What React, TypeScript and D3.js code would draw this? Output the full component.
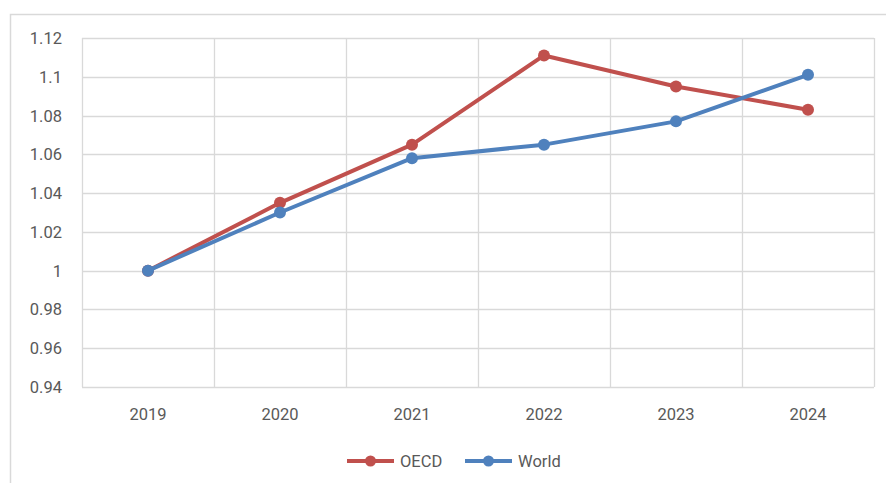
import { useRef, useEffect } from 'react';
import * as d3 from 'd3';

const years = ['2019', '2020', '2021', '2022', '2023', '2024'];
const oecd = [1.0, 1.035, 1.065, 1.111, 1.095, 1.083];
const world = [1.0, 1.03, 1.058, 1.065, 1.077, 1.101];
const yTicks = [0.94, 0.96, 0.98, 1, 1.02, 1.04, 1.06, 1.08, 1.1, 1.12];

const WIDTH = 886;
const HEIGHT = 483;
const margin = { top: 38, right: 10, bottom: 96, left: 82 };
const FONT = '"Liberation Sans Narrow", "Arial Narrow", Roboto, sans-serif';
const TEXT_SIZE = 16.5;

const series = [
  { name: 'OECD', values: oecd, color: '#C0504D' },
  { name: 'World', values: world, color: '#4F81BD' },
];

export default function App() {
  const svgRef = useRef<SVGSVGElement>(null);

  useEffect(() => {
    if (!svgRef.current) return;
    const svg = d3.select(svgRef.current);
    svg.selectAll('*').remove();

    const innerWidth = WIDTH - margin.left - margin.right - 2;
    const innerHeight = HEIGHT - margin.top - margin.bottom;

    // outer chart frame
    svg
      .append('rect')
      .attr('x', 10.5)
      .attr('y', 14.5)
      .attr('width', WIDTH + 20)
      .attr('height', HEIGHT + 20)
      .attr('fill', 'white')
      .attr('stroke', '#d9d9d9')
      .attr('stroke-width', 1.5);

    const x = d3.scaleBand().domain(years).range([0, innerWidth]);
    const y = d3.scaleLinear().domain([0.94, 1.12]).range([innerHeight, 0]);

    const g = svg
      .append('g')
      .attr('transform', `translate(${margin.left},${margin.top})`);

    // horizontal grid
    g.selectAll('.hgrid')
      .data(yTicks)
      .join('line')
      .attr('x1', 0)
      .attr('x2', innerWidth)
      .attr('y1', (d) => Math.round(y(d)) + 0.5)
      .attr('y2', (d) => Math.round(y(d)) + 0.5)
      .attr('stroke', '#d9d9d9')
      .attr('stroke-width', 1.3);

    // vertical grid at band edges
    const edges = years.map((d) => x(d) || 0).concat([innerWidth]);
    g.selectAll('.vgrid')
      .data(edges)
      .join('line')
      .attr('x1', (d) => Math.round(d) + 0.5)
      .attr('x2', (d) => Math.round(d) + 0.5)
      .attr('y1', 0)
      .attr('y2', innerHeight)
      .attr('stroke', '#d9d9d9')
      .attr('stroke-width', 1.3);

    // y labels
    g.selectAll('.ylab')
      .data(yTicks)
      .join('text')
      .attr('x', -20)
      .attr('y', (d) => y(d) + 6)
      .attr('text-anchor', 'end')
      .attr('font-family', FONT)
      .attr('font-size', TEXT_SIZE)
      .attr('fill', '#595959')
      .text((d) => String(d));

    // x labels
    g.selectAll('.xlab')
      .data(years)
      .join('text')
      .attr('x', (d) => (x(d) || 0) + x.bandwidth() / 2)
      .attr('y', innerHeight + 33)
      .attr('text-anchor', 'middle')
      .attr('font-family', FONT)
      .attr('font-size', TEXT_SIZE)
      .attr('fill', '#595959')
      .text((d) => d);

    const line = d3
      .line<number>()
      .x((_, i) => (x(years[i]) || 0) + x.bandwidth() / 2)
      .y((d) => y(d));

    series.forEach((s) => {
      g.append('path')
        .datum(s.values)
        .attr('d', line)
        .attr('fill', 'none')
        .attr('stroke', s.color)
        .attr('stroke-width', 4)
        .attr('stroke-linejoin', 'round');

      g.selectAll(`.pt-${s.name}`)
        .data(s.values)
        .join('circle')
        .attr('cx', (_, i) => (x(years[i]) || 0) + x.bandwidth() / 2)
        .attr('cy', (d) => y(d))
        .attr('r', 6)
        .attr('fill', s.color);
    });

    // legend
    const legendPos = [347, 465];
    series.forEach((s, i) => {
      const lx = legendPos[i];
      const ly = 461;
      svg
        .append('line')
        .attr('x1', lx)
        .attr('x2', lx + 47)
        .attr('y1', ly)
        .attr('y2', ly)
        .attr('stroke', s.color)
        .attr('stroke-width', 4);
      svg
        .append('circle')
        .attr('cx', lx + 23.5)
        .attr('cy', ly)
        .attr('r', 5.5)
        .attr('fill', s.color);
      svg
        .append('text')
        .attr('x', lx + 53)
        .attr('y', ly + 6)
        .attr('font-family', FONT)
        .attr('font-size', TEXT_SIZE)
        .attr('fill', '#595959')
        .text(s.name);
    });
  }, []);

  return (
    <div style={{ position: 'absolute', left: 0, top: 0, width: WIDTH, height: HEIGHT, background: 'white' }}>
      <svg ref={svgRef} width={WIDTH} height={HEIGHT} style={{ display: 'block' }} />
    </div>
  );
}
